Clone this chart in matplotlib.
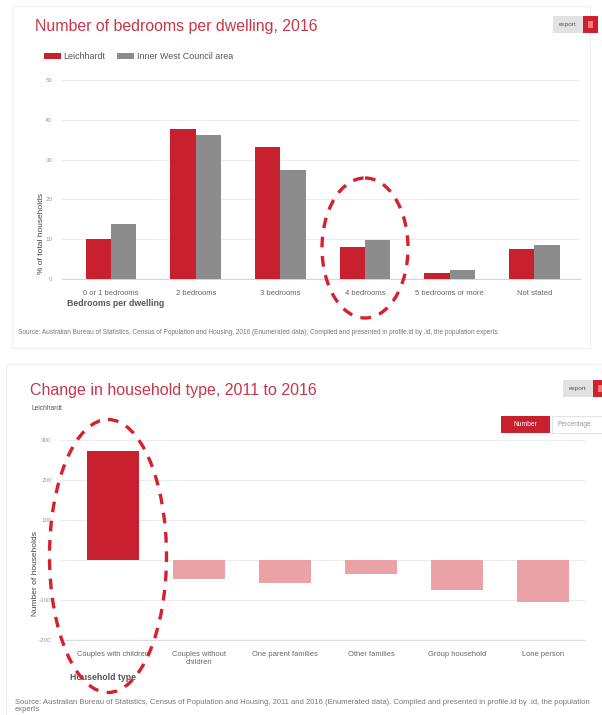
import matplotlib
matplotlib.use("Agg")
import matplotlib.pyplot as plt
from matplotlib.patches import Ellipse, Rectangle
import numpy as np

plt.rcParams['font.family'] = ['Liberation Sans', 'DejaVu Sans']

# ---------------- data ----------------
bed_categories = ["0 or 1 bedrooms", "2 bedrooms", "3 bedrooms", "4 bedrooms",
                  "5 bedrooms or more", "Not stated"]
leichhardt_pct = [10.0, 37.6, 33.1, 8.0, 1.5, 7.5]
inner_west_pct = [13.8, 36.3, 27.5, 9.7, 2.2, 8.6]
bed_yticks = [0, 10, 20, 30, 40, 50]

hh_categories = ["Couples with children", "Couples without\nchildren",
                 "One parent families", "Other families",
                 "Group household", "Lone person"]
hh_change = [272, -47, -57, -35, -75, -105]
hh_yticks = [-200, -100, 0, 100, 200, 300]

RED = "#c9202f"
GREY = "#8c8c8c"
PINK = "#eba2a7"
TITLE_RED = "#c8364a"

W, H = 602, 715
fig = plt.figure(figsize=(W / 100, H / 100), dpi=100)
fig.patch.set_facecolor("white")


def box(left, top, right, bottom):
    return [left / W, 1 - bottom / H, (right - left) / W, (bottom - top) / H]


# ---------------- top chart ----------------
ax1 = fig.add_axes(box(62, 80, 580, 279))
x = np.arange(len(bed_categories))
bw = 0.3
ax1.bar(x - bw / 2, leichhardt_pct, bw, color=RED, label="Leichhardt", zorder=3)
ax1.bar(x + bw / 2, inner_west_pct, bw, color=GREY, label="Inner West Council area", zorder=3)
ax1.set_xlim(-0.58, 5.54)
ax1.set_ylim(0, 50)
ax1.set_yticks(bed_yticks)
ax1.set_yticklabels([str(v) for v in bed_yticks])
ax1.set_xticks(x)
ax1.set_xticklabels(bed_categories)
ax1.grid(axis="y", color="#ececec", lw=0.8, zorder=0)
for s in ["top", "right", "left"]:
    ax1.spines[s].set_visible(False)
ax1.spines["bottom"].set_color("#ccd6eb")
ax1.spines["bottom"].set_linewidth(0.8)
ax1.tick_params(axis="both", length=0)
ax1.tick_params(axis="y", labelsize=4.5, labelcolor="#9a9a9a", pad=7)
ax1.tick_params(axis="x", labelsize=5.5, labelcolor="#666666", pad=8)
ax1.set_ylabel("% of total households", fontsize=6, color="#444444")
ax1.yaxis.set_label_coords(-0.032, 0.23)
ax1.set_xlabel("Bedrooms per dwelling", fontsize=6.3, fontweight="bold", color="#555555")
ax1.xaxis.set_label_coords((116 - 62) / 518, -0.10)

fig.legend(loc="upper left", bbox_to_anchor=(36 / W, 1 - 44 / H), ncol=2,
           frameon=False, fontsize=6.4, labelcolor="#555555",
           handlelength=1.9, handleheight=0.7, columnspacing=1.3, handletextpad=0.3)

# ---------------- bottom chart ----------------
ax2 = fig.add_axes(box(60, 440, 585, 640))
x2 = np.arange(len(hh_categories))
cols = [RED if v >= 0 else PINK for v in hh_change]
ax2.bar(x2, hh_change, 0.6, color=cols, zorder=3)
ax2.set_xlim(-0.62, 5.49)
ax2.set_ylim(-200, 300)
ax2.set_yticks(hh_yticks)
ax2.set_yticklabels([str(v) for v in hh_yticks])
ax2.set_xticks(x2)
ax2.set_xticklabels(hh_categories, linespacing=1.1)
ax2.grid(axis="y", color="#ececec", lw=0.8, zorder=0)
for s in ["top", "right", "left"]:
    ax2.spines[s].set_visible(False)
ax2.spines["bottom"].set_color("#dddddd")
ax2.spines["bottom"].set_linewidth(0.8)
ax2.tick_params(axis="both", length=0)
ax2.tick_params(axis="y", labelsize=4.5, labelcolor="#9a9a9a", pad=6)
ax2.tick_params(axis="x", labelsize=5.4, labelcolor="#666666", pad=8)
ax2.set_ylabel("Number of households", fontsize=6, color="#444444")
ax2.yaxis.set_label_coords(-0.04, 0.33)
ax2.set_xlabel("Household type", fontsize=6.3, fontweight="bold", color="#555555")
ax2.xaxis.set_label_coords((103 - 60) / 525, -0.165)

# ---------------- overlay: titles, buttons, annotations ----------------
ov = fig.add_axes([0, 0, 1, 1], facecolor="none")
ov.set_xlim(0, W)
ov.set_ylim(H, 0)
ov.axis("off")

# card borders
ov.add_patch(Rectangle((12, 6), 578, 342, fill=False, ec="#f1f1f1", lw=0.8))
ov.add_patch(Rectangle((6, 364), 600, 360, fill=False, ec="#f1f1f1", lw=0.8))

ov.text(35, 27, "Number of bedrooms per dwelling, 2016", fontsize=11.4,
        color=TITLE_RED, va="center", ha="left")
ov.text(30, 391, "Change in household type, 2011 to 2016", fontsize=11.5,
        color=TITLE_RED, va="center", ha="left")
ov.text(32, 409, "Leichhardt", fontsize=4.8, color="#555555", va="center", ha="left")

# export buttons
for (gx, gy, gw, gh) in [(553, 16, 30, 17), (563, 380, 30, 17)]:
    ov.add_patch(Rectangle((gx, gy), gw, gh, fc="#e2e2e2", ec="none"))
    ov.text(gx + gw / 2, gy + gh / 2, "export", fontsize=4.6, color="#555555",
            ha="center", va="center")
    ov.add_patch(Rectangle((gx + gw, gy), 15, gh, fc="#d0202f", ec="none"))
    ov.add_patch(Rectangle((gx + gw + 5, gy + 5), 5, gh - 10, fc="#f07a80", ec="none"))

# Number / Percentage toggle
ov.add_patch(Rectangle((501, 416), 49, 17, fc="#c9202f", ec="none"))
ov.text(525.5, 424.5, "Number", fontsize=4.8, color="white", ha="center", va="center")
ov.add_patch(Rectangle((552, 416), 60, 17, fc="white", ec="#e4e4e4", lw=0.8))
ov.text(557, 424.5, "Percentage", fontsize=4.8, color="#9a9a9a", ha="left", va="center")

# source notes
ov.text(18, 333, "Source: Australian Bureau of Statistics, Census of Population and Housing, "
        "2016 (Enumerated data). Compiled and presented in profile.id by .id, the population experts",
        fontsize=4.7, color="#777777", ha="left", va="center")
ov.text(15, 702, "Source: Australian Bureau of Statistics, Census of Population and Housing, "
        "2011 and 2016 (Enumerated data). Compiled and presented in profile.id by .id, the population",
        fontsize=5.5, color="#777777", ha="left", va="center")
ov.text(15, 709.5, "experts", fontsize=5.5, color="#777777", ha="left", va="center")

# dashed highlight ellipses
for (cx, cy, ew, eh) in [(365, 248, 86, 140), (108, 556, 117, 273)]:
    ov.add_patch(Ellipse((cx, cy), ew, eh, fill=False, ec="#d5202e", lw=2.4,
                         linestyle=(0, (3.2, 2.6))))

fig.savefig("out.png", dpi=100, facecolor="white")
